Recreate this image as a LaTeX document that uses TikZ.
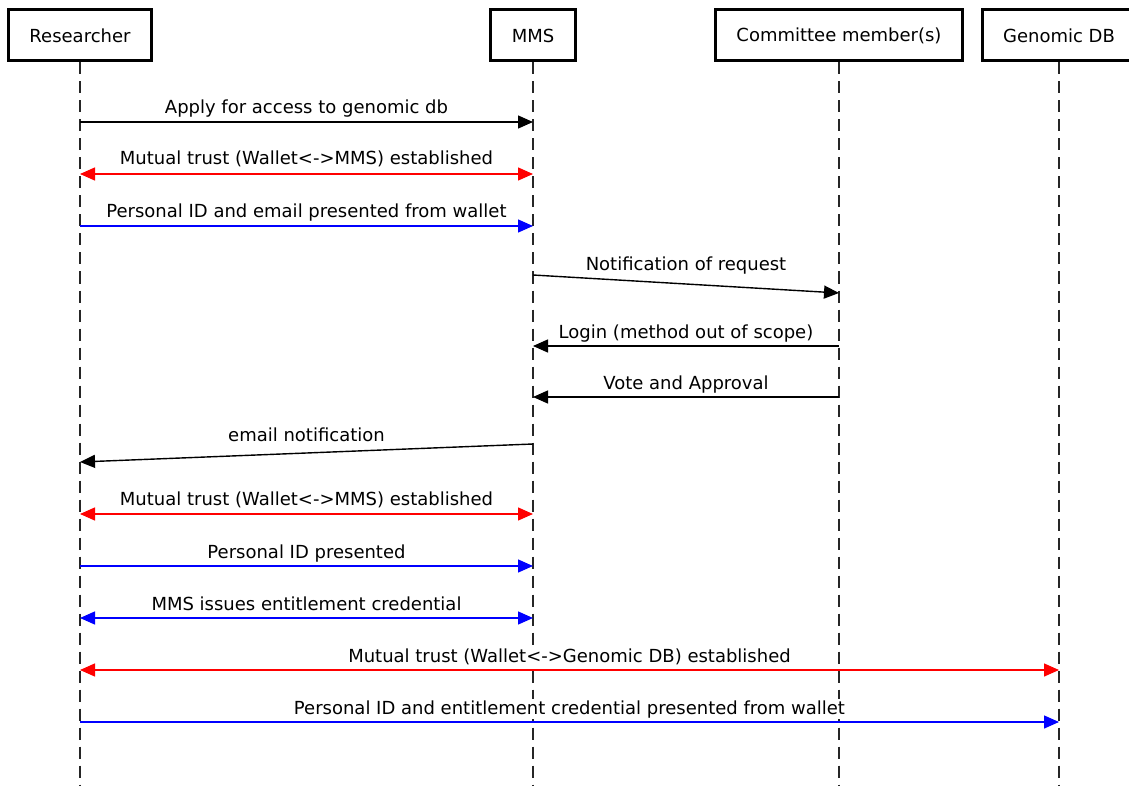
\documentclass[tikz,border=0pt]{standalone}
\usepackage{fontspec}
\setmainfont{DejaVu Sans}
\usetikzlibrary{arrows.meta,calc}
\begin{document}
\begin{tikzpicture}[x=1pt,y=-1pt,
  actor/.style={draw=black,line width=3pt,fill=white,minimum height=51pt,inner xsep=21pt,inner ysep=0pt,font=\fontsize{18}{21}\selectfont},
  life/.style={line width=1.5pt,black!85,dash pattern=on 12pt off 7pt},
  msg/.style={line width=1.4pt,-{Triangle[length=15pt,width=13pt]}},
  dmsg/.style={line width=1.4pt,{Triangle[length=15pt,width=13pt]}-{Triangle[length=15pt,width=13pt]}},
  lbl/.style={anchor=base,fill=white,inner xsep=1pt,inner ysep=1.5pt,font=\fontsize{18}{21}\selectfont}]
\useasboundingbox (0,0) rectangle (1129,786);
\clip (0,0) rectangle (1129,786);
\fill[white] (0,0) rectangle (1129,786);
% lifelines
\coordinate (rb) at (80,790);
\coordinate (mb) at (533,790);
\coordinate (cb) at (839,790);
\coordinate (gb) at (1059,790);
\node[actor] (r) at (80,35.5) {Researcher};
\node[actor] (m) at (533,35.5) {MMS};
\node[actor] (c) at (839,35.5) {Committee member(s)};
\node[actor] (g) at (1059,35.5) {Genomic DB};
\draw[life] (r.south) -- (r.south |- rb);
\draw[life] (m.south) -- (m.south |- mb);
\draw[life] (c.south) -- (c.south |- cb);
\draw[life] (g.south) -- (g.south |- gb);
\coordinate (rm) at ($(r)!0.5!(m)$);
\coordinate (mc) at ($(m)!0.5!(c)$);
\coordinate (rg) at ($(r)!0.5!(g)$);
% labels
\node[lbl] (l1) at (rm |- 0,114) {Apply for access to genomic db};
\node[lbl] (l2) at (rm |- 0,165) {Mutual trust (Wallet<->MMS) established};
\node[lbl] (l3) at (rm |- 0,218) {Personal ID and email presented from wallet};
\node[lbl] (l4) at (mc |- 0,271) {Notification of request};
\node[lbl] (l5) at (mc |- 0,338) {Login (method out of scope)};
\node[lbl] (l6) at (mc |- 0,389) {Vote and Approval};
\node[lbl] (l7) at (rm |- 0,441) {email notification};
\node[lbl] (l8) at (rm |- 0,505) {Mutual trust (Wallet<->MMS) established};
\node[lbl] (l9) at (rm |- 0,558) {Personal ID presented};
\node[lbl] (l10) at (rm |- 0,610) {MMS issues entitlement credential};
\node[lbl] (l11) at (rg |- 0,662) {Mutual trust (Wallet<->Genomic DB) established};
\node[lbl] (l12) at (rg |- 0,714) {Personal ID and entitlement credential presented from wallet};
% messages
\draw[msg] (r |- 0,122) -- (m |- 0,122);
\draw[dmsg,red] (r |- 0,174) -- (m |- 0,174);
\draw[msg,blue] (r |- 0,226) -- (m |- 0,226);
\draw[msg] (m |- 0,275) -- (c |- 0,293);
\draw[msg] (c |- 0,346) -- (m |- 0,346);
\draw[msg] (c |- 0,397) -- (m |- 0,397);
\draw[msg] (m |- 0,444) -- (r |- 0,462);
\draw[dmsg,red] (r |- 0,514) -- (m |- 0,514);
\draw[msg,blue] (r |- 0,566) -- (m |- 0,566);
\draw[dmsg,blue] (r |- 0,618) -- (m |- 0,618);
\draw[dmsg,red] (r |- 0,670) -- (g |- 0,670);
\draw[msg,blue] (r |- 0,722) -- (g |- 0,722);
\end{tikzpicture}
\end{document}
